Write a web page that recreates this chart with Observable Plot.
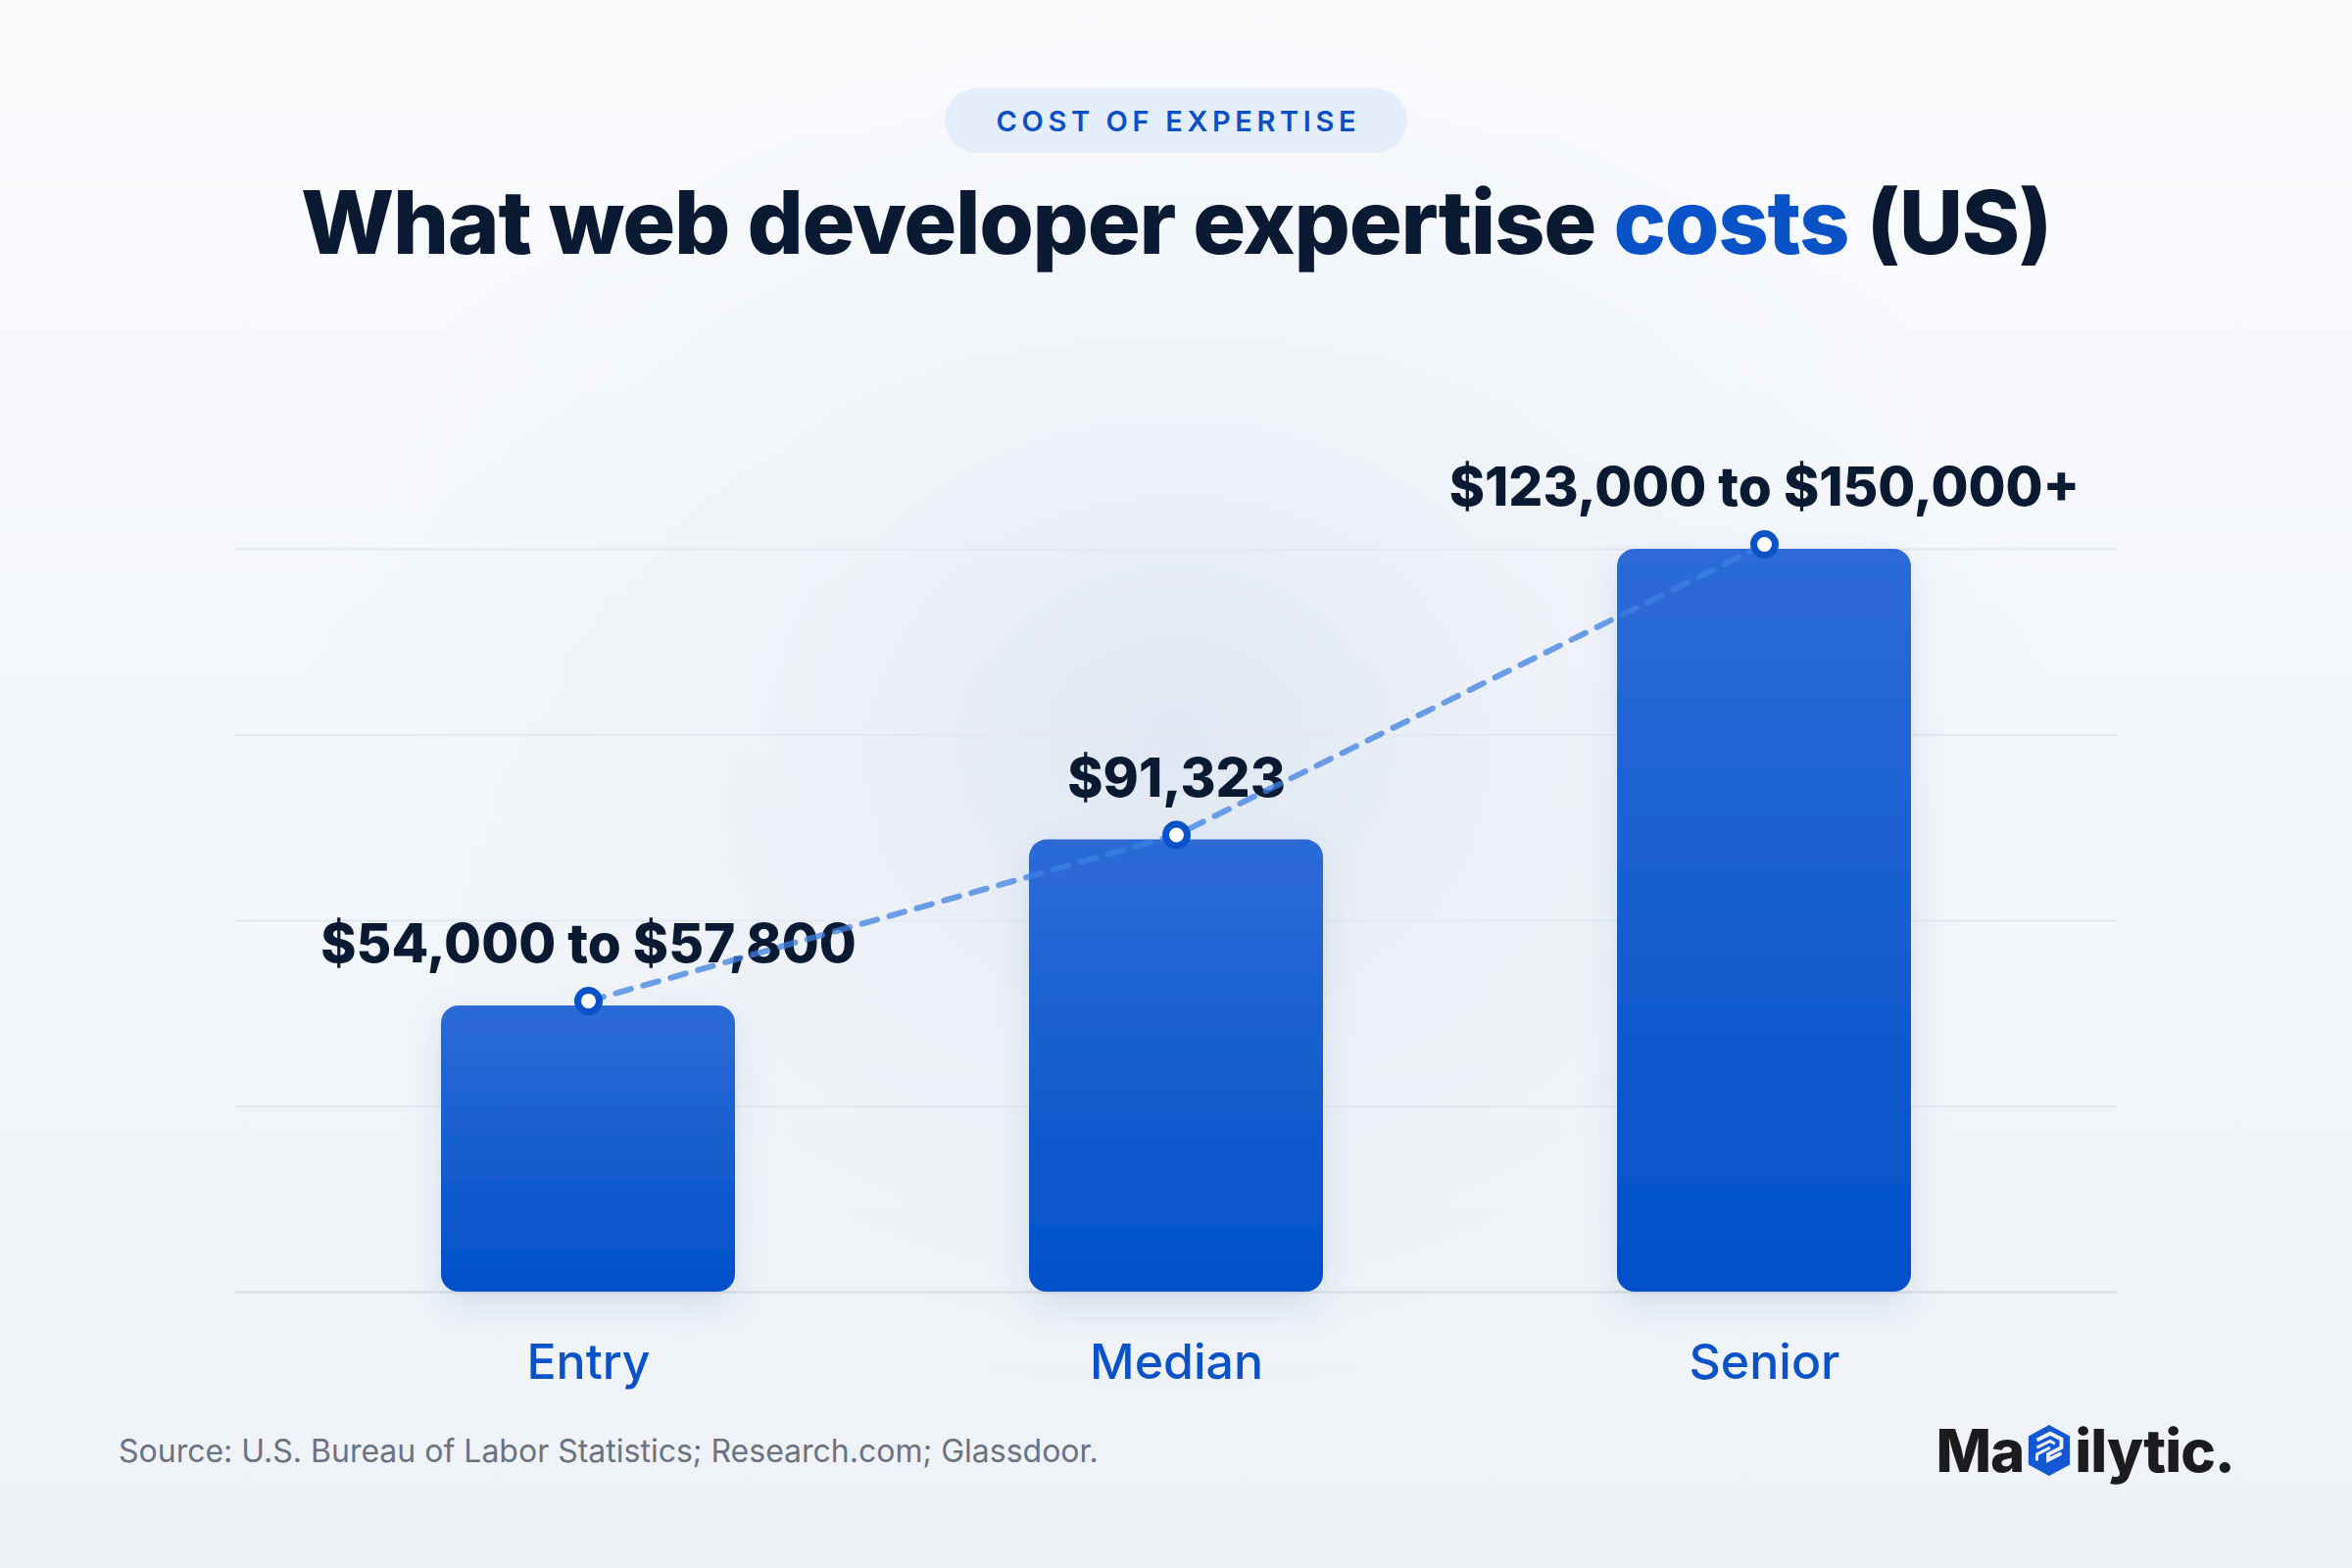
<!DOCTYPE html>
<html>
<head>
<meta charset="utf-8">
<script src="https://cdn.jsdelivr.net/npm/d3@7"></script>
<script src="https://cdn.jsdelivr.net/npm/@observablehq/plot@0.6"></script>
<style>
  html, body { margin: 0; padding: 0; }
  body {
    width: 2400px; height: 1600px; position: relative; overflow: hidden;
    font-family: Inter, "Noto Sans", sans-serif;
    background:
      radial-gradient(ellipse 900px 750px at 50% 47%, rgba(222,230,242,0.9) 0%, rgba(232,238,246,0.5) 45%, rgba(240,244,249,0) 100%),
      linear-gradient(180deg, #fafbfd 0%, #f3f6fa 55%, #eef2f7 100%);
  }
  #pill {
    position: absolute; left: 964px; top: 90px; width: 472px; height: 66px;
    border-radius: 33px; background: #e4edfb;
    display: flex; align-items: center; justify-content: center;
    color: #0a4fc4; font-size: 29px; font-weight: 600; letter-spacing: 0.16em;
    padding-left: 0.16em; box-sizing: border-box;
  }
  #title {
    position: absolute; left: 0; width: 2400px; top: 170px; text-align: center;
    font-size: 90px; font-weight: 800; color: #0b1a33; letter-spacing: -1.3px;
    line-height: 114px;
  }
  #title span { color: #0a52c7; }
  #chart { position: absolute; left: 0; top: 400px; }
  #source {
    position: absolute; left: 121px; top: 1461px; font-size: 32px; color: #6b7280;
    letter-spacing: 0px;
  }
  #logo {
    position: absolute; right: 120px; top: 1444px; font-size: 60px; font-weight: 800;
    color: #1c1c1e; letter-spacing: -1px; display: flex; align-items: center;
  }
  #logo svg { margin: 0 2px; }
</style>
</head>
<body>
<div id="pill">COST OF EXPERTISE</div>
<div id="title">What web developer expertise <span>costs</span> (US)</div>
<div id="chart"></div>
<div id="source">Source: U.S. Bureau of Labor Statistics; Research.com; Glassdoor.</div>
<div id="logo">Ma<svg width="48" height="56" viewBox="0 0 50 58">
  <path d="M25 2 L47 14 L47 44 L25 56 L3 44 L3 14 Z" fill="#1457d4"/>
  <path d="M12 18 L26 11 L38 17 L38 26 L24 33 L24 39 L38 32" fill="none" stroke="#eef2f7" stroke-width="4"/>
  <path d="M12 26 L26 19 L31 22 M12 40 L12 33 L26 26" fill="none" stroke="#eef2f7" stroke-width="3"/>
</svg>ilytic.</div>
<script>
const levels = ["Entry", "Median", "Senior"];
const salaries = [57800, 91323, 150000];
const valueLabels = ["$54,000 to $57,800", "$91,323", "$123,000 to $150,000+"];
const gridTicks = [0, 37500, 75000, 112500, 150000];

const data = levels.map((level, i) => ({level, salary: salaries[i], label: valueLabels[i]}));

const defs = () => {
  const svg = d3.create("svg:defs");
  const g = svg.append("linearGradient").attr("id", "barGrad")
    .attr("x1", 0).attr("y1", 0).attr("x2", 0).attr("y2", 1);
  g.append("stop").attr("offset", "0%").attr("stop-color", "#2d6bd7");
  g.append("stop").attr("offset", "100%").attr("stop-color", "#0050c9");
  const f = svg.append("filter").attr("id", "barShadow")
    .attr("x", "-30%").attr("y", "-20%").attr("width", "160%").attr("height", "150%");
  f.append("feDropShadow").attr("dx", 0).attr("dy", 14).attr("stdDeviation", 18)
    .attr("flood-color", "#1a3f8a").attr("flood-opacity", 0.12);
  return svg.node();
};

const chart = Plot.plot({
  width: 2400,
  height: 1018,
  marginTop: 160,
  marginBottom: 100,
  marginLeft: 240,
  marginRight: 240,
  style: {background: "transparent", fontFamily: "Inter, 'Noto Sans', sans-serif", overflow: "visible"},
  x: {domain: levels, paddingInner: 0.5, paddingOuter: 0.35, axis: null},
  y: {domain: [0, 150000], axis: null},
  marks: [
    defs,
    Plot.ruleY(gridTicks.slice(1), {stroke: "#e4e9f1", strokeWidth: 2}),
    Plot.ruleY([0], {stroke: "#dfe3ea", strokeWidth: 3}),
    Plot.barY(data, {x: "level", y: "salary", fill: "url(#barGrad)", rx: 18}),
    Plot.text(data, {x: "level", y: "salary", text: "label", dy: -62, fontSize: 55, fontWeight: 800, fill: "#0b1a33", letterSpacing: -0.5}),
    Plot.line(data, {x: "level", y: "salary", dy: -5, stroke: "#3f80e0", strokeOpacity: 0.75, strokeWidth: 6, strokeDasharray: "16,13"}),
    Plot.dot(data, {x: "level", y: "salary", dy: -5, r: 11, fill: "white", stroke: "#0a52c7", strokeWidth: 7}),
    Plot.text(data, {x: "level", y: () => 0, text: "level", dy: 72, fontSize: 50, fontWeight: 500, fill: "#0a52c7"})
  ]
});
d3.select(chart).selectAll("g[aria-label='bar']").attr("filter", "url(#barShadow)");
document.getElementById("chart").appendChild(chart);
</script>
</body>
</html>
